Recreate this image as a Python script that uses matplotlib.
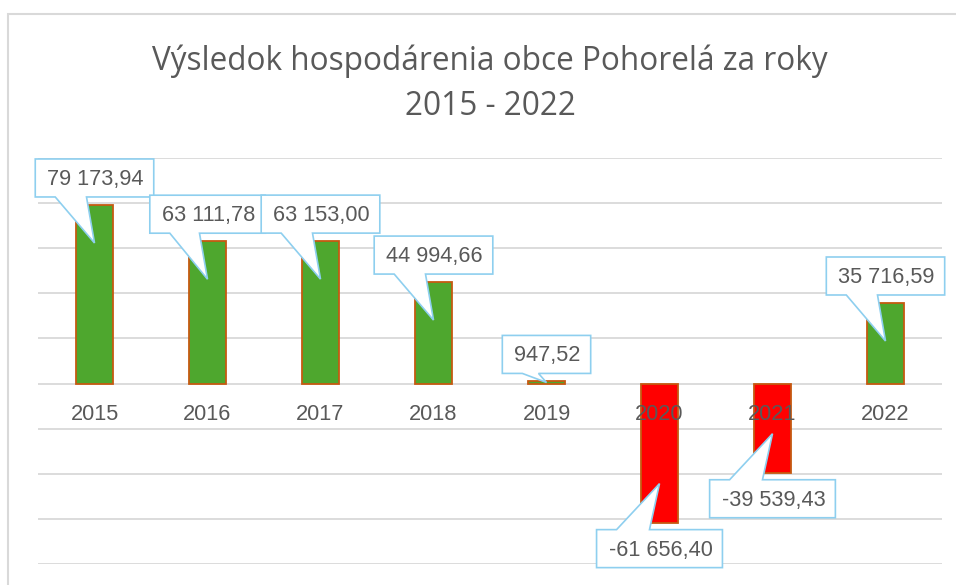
import matplotlib
matplotlib.use("Agg")
import matplotlib.pyplot as plt
from matplotlib.patches import Polygon, Rectangle
from matplotlib.transforms import IdentityTransform

years = ["2015", "2016", "2017", "2018", "2019", "2020", "2021", "2022"]
values = [79173.94, 63111.78, 63153.00, 44994.66, 947.52, -61656.40, -39539.43, 35716.59]
labels = ["79 173,94", "63 111,78", "63 153,00", "44 994,66", "947,52",
          "-61 656,40", "-39 539,43", "35 716,59"]
title_line1 = "Výsledok hospodárenia obce Pohorelá za roky"
title_line2 = "2015 - 2022"

W, H = 956, 585
fig = plt.figure(figsize=(W / 100, H / 100), dpi=100)
fig.patch.set_facecolor("white")

# chart frame
fig.add_artist(Rectangle((8 / W, -0.2), 1.2, 1.2 - 14 / H, transform=fig.transFigure,
                         fill=False, edgecolor="#D9D9D9", linewidth=1.5))

ax = fig.add_axes([38 / W, 1 - 564 / H, 904 / W, (564 - 158) / H])
ax.set_facecolor("none")
ax.set_xlim(-0.5, len(years) - 0.5)
ax.set_ylim(-80000, 100000)
ax.set_yticks(range(-80000, 100001, 20000))
ax.yaxis.grid(True, color="#D9D9D9", linewidth=1.3)
ax.set_axisbelow(True)
ax.tick_params(left=False, bottom=False, labelleft=False, labelbottom=False)
for s in ax.spines.values():
    s.set_visible(False)

x = list(range(len(years)))
colors = ["#4EA72E" if v >= 0 else "#FF0000" for v in values]
bars = ax.bar(x, values, width=0.335, color=colors, edgecolor="#C55A11",
              linewidth=1.3, zorder=3)

lab_font = dict(family=["Liberation Sans", "DejaVu Sans"], size=15.7, color="#595959")
for i, y in enumerate(years):
    ax.annotate(y, (i, 0), xytext=(0, -31), textcoords="offset pixels",
                ha="center", va="center", zorder=4, **lab_font)

fig.text(490 / W, 1 - 70 / H, title_line1, ha="center", va="baseline",
         family=["Open Sans", "DejaVu Sans"], size=22.7, color="#595959")
fig.text(490 / W, 1 - 115 / H, title_line2, ha="center", va="baseline",
         family=["Open Sans", "DejaVu Sans"], size=22.7, color="#595959")

fig.canvas.draw()
renderer = fig.canvas.get_renderer()
ident = IdentityTransform()
box_h = 38
for i, (v, lab) in enumerate(zip(values, labels)):
    cx, ye = ax.transData.transform((i, v))
    _, y0 = ax.transData.transform((i, 0))
    t = fig.text(0, 0, lab, transform=ident, ha="center", va="center",
                 zorder=20 + 2 * i + 1, **lab_font)
    tw = t.get_window_extent(renderer).width
    bw = tw + 22
    L, R = cx - bw / 2, cx + bw / 2
    bh = abs(ye - y0)
    if v >= 0:
        B = ye + 8
        T = B + box_h
        tip = (cx, ye - min(38, bh / 2))
        pts = [(L, B), (L + 20, B), tip, (cx - 8, B), (R, B), (R, T), (L, T)]
    else:
        T = ye - 7
        B = T - box_h
        tip = (cx, ye + min(39, bh / 2))
        pts = [(L, T), (L + 20, T), tip, (cx - 10, T), (R, T), (R, B), (L, B)]
    ty = (B + T) / 2
    t.set_position((cx + 1, ty - 1.5))
    poly = Polygon(pts, closed=True, transform=ident, facecolor="white",
                   edgecolor="#8ECFEF", linewidth=1.2, zorder=20 + 2 * i)
    fig.add_artist(poly)

fig.savefig("out.png", dpi=100)
